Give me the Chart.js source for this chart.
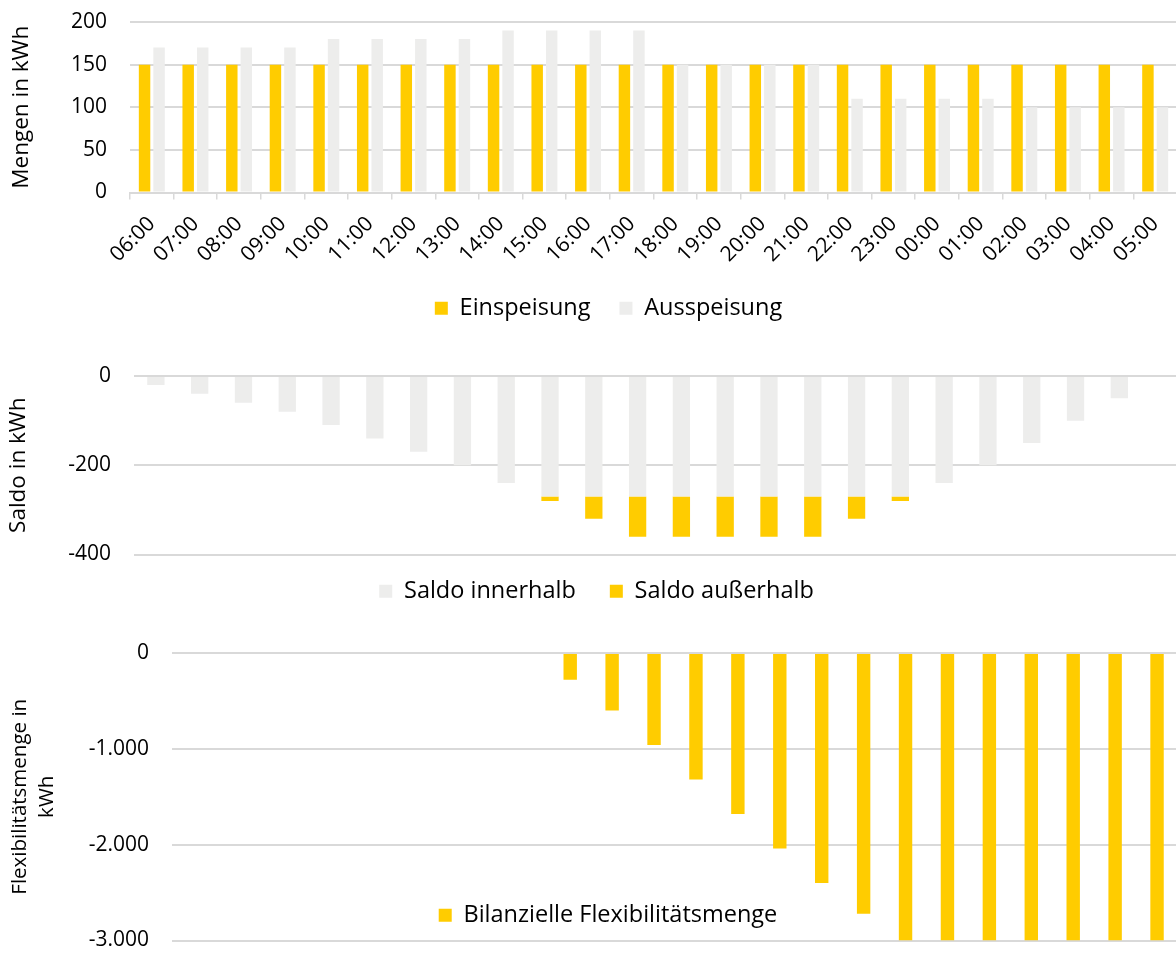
<!DOCTYPE html>
<html lang="de">
<head>
  <meta charset="UTF-8">
  <title>Einspeisung, Saldo und Flexibilitätsmenge</title>
  <script src="https://cdn.jsdelivr.net/npm/chart.js"></script>
  <style>
    html, body {
      margin: 0;
      padding: 0;
      background: #fff;
      width: 1176px;
      height: 953px;
      overflow: hidden;
    }
    .box { position: absolute; left: 0; }
    #box1 { top: 0;     width: 1185px; height: 335px; }
    #box2 { top: 340px; width: 1185px; height: 282px; }
    #box3 { top: 620px; width: 1178px; height: 364px; }
  </style>
</head>
<body>
  <div class="box" id="box1"><canvas id="mengenChart"></canvas></div>
  <div class="box" id="box2"><canvas id="saldoChart"></canvas></div>
  <div class="box" id="box3"><canvas id="flexChart"></canvas></div>

  <script>
    // data
    const hours = ['06:00', '07:00', '08:00', '09:00', '10:00', '11:00', '12:00', '13:00',
                   '14:00', '15:00', '16:00', '17:00', '18:00', '19:00', '20:00', '21:00',
                   '22:00', '23:00', '00:00', '01:00', '02:00', '03:00', '04:00', '05:00'];
    const einspeisung = [150, 150, 150, 150, 150, 150, 150, 150, 150, 150, 150, 150,
                         150, 150, 150, 150, 150, 150, 150, 150, 150, 150, 150, 150];
    const ausspeisung = [170, 170, 170, 170, 180, 180, 180, 180, 190, 190, 190, 190,
                         150, 150, 150, 150, 110, 110, 110, 110, 100, 100, 100, 100];
    const saldoInnerhalb = [-20, -40, -60, -80, -110, -140, -170, -200, -240, -270, -270, -270,
                            -270, -270, -270, -270, -270, -270, -240, -200, -150, -100, -50, 0];
    const saldoAusserhalb = [0, 0, 0, 0, 0, 0, 0, 0, 0, -10, -50, -90,
                             -90, -90, -90, -90, -50, -10, 0, 0, 0, 0, 0, 0];
    const flexMenge = [0, 0, 0, 0, 0, 0, 0, 0, 0, -280, -600, -960,
                       -1320, -1680, -2040, -2400, -2720, -3000, -3000, -3000, -3000, -3000, -3000, -3000];

    const YELLOW = '#FFCC00';
    const GREY = '#EDEDEC';
    const GRID = '#D9D9D9';

    Chart.defaults.font.family = '"Open Sans", "Noto Sans", sans-serif';
    Chart.defaults.color = '#000';
    Chart.defaults.animation = false;

    // moves the legend box by dx/dy after layout (Excel style legend placement)
    const legendShift = {
      id: 'legendShift',
      afterLayout(chart, args, opts) {
        const lg = chart.legend;
        if (!lg) return;
        lg.left += opts.dx || 0;
        lg.right += opts.dx || 0;
        lg.top += opts.dy || 0;
        lg.bottom += opts.dy || 0;
      }
    };

    const legendFont = { size: 23.5 };
    const tickFont = { size: 21 };
    const titleFont = { size: 22.5 };

    // y axes: gap between labels and plot made with an invisible tick,
    // ticks.padding would also push the chart area down
    const yGrid = { color: GRID, lineWidth: 2, drawTicks: true, tickLength: 23, tickColor: 'rgba(0,0,0,0)' };

    // 1) Einspeisung / Ausspeisung
    new Chart(document.getElementById('mengenChart'), {
      type: 'bar',
      data: {
        labels: hours,
        datasets: [
          { label: 'Einspeisung', data: einspeisung, backgroundColor: YELLOW },
          { label: 'Ausspeisung', data: ausspeisung, backgroundColor: GREY }
        ]
      },
      options: {
        responsive: true,
        maintainAspectRatio: false,
        layout: { padding: { top: 22, left: 0, right: 0, bottom: 0 } },
        datasets: { bar: { categoryPercentage: 0.665, barPercentage: 0.79, borderWidth: 0 } },
        plugins: {
          legend: {
            position: 'bottom',
            labels: { font: legendFont, boxWidth: 13, boxHeight: 13, padding: 29 }
          },
          tooltip: { enabled: false },
          legendShift: { dx: 16, dy: -5 }
        },
        scales: {
          x: {
            grid: { drawOnChartArea: false, tickLength: 7, color: GRID, lineWidth: 1.5 },
            border: { color: GRID, width: 2 },
            ticks: { minRotation: 45, maxRotation: 45, autoSkip: false, padding: 12, font: tickFont },
            afterFit: (scale) => { scale.height = 80; }
          },
          y: {
            min: 0,
            max: 200,
            ticks: { stepSize: 50, padding: 0, font: tickFont },
            grid: yGrid,
            border: { display: false },
            title: { display: true, text: 'Mengen in kWh', font: titleFont, padding: { top: 8 } },
            afterFit: (scale) => { scale.width = 130; }
          }
        }
      },
      plugins: [legendShift]
    });

    // 2) Saldo innerhalb / außerhalb (gestapelt)
    new Chart(document.getElementById('saldoChart'), {
      type: 'bar',
      data: {
        labels: hours,
        datasets: [
          { label: 'Saldo innerhalb', data: saldoInnerhalb, backgroundColor: GREY },
          { label: 'Saldo außerhalb', data: saldoAusserhalb, backgroundColor: YELLOW }
        ]
      },
      options: {
        responsive: true,
        maintainAspectRatio: false,
        layout: { padding: { top: 36, left: 0, right: 0, bottom: 0 } },
        datasets: { bar: { categoryPercentage: 0.5, barPercentage: 0.79, borderWidth: 0 } },
        plugins: {
          legend: {
            position: 'bottom',
            labels: { font: legendFont, boxWidth: 13, boxHeight: 13, padding: 34 }
          },
          tooltip: { enabled: false },
          legendShift: { dx: 4, dy: -9 }
        },
        scales: {
          x: { display: false, stacked: true },
          y: {
            stacked: true,
            min: -400,
            max: 0,
            ticks: { stepSize: 200, padding: 0, font: tickFont },
            grid: yGrid,
            border: { display: false },
            title: { display: true, text: 'Saldo in kWh', font: titleFont, padding: { top: 5 } },
            afterFit: (scale) => { scale.width = 134; }
          }
        }
      },
      plugins: [legendShift]
    });

    // 3) Bilanzielle Flexibilitätsmenge
    new Chart(document.getElementById('flexChart'), {
      type: 'bar',
      data: {
        labels: hours,
        datasets: [
          { label: 'Bilanzielle Flexibilitätsmenge', data: flexMenge, backgroundColor: YELLOW }
        ]
      },
      options: {
        responsive: true,
        maintainAspectRatio: false,
        locale: 'de-DE',
        layout: { padding: { top: 33, left: 0, right: 0, bottom: 0 } },
        datasets: { bar: { categoryPercentage: 0.4, barPercentage: 0.8, borderWidth: 0 } },
        plugins: {
          legend: {
            position: 'bottom',
            labels: { font: legendFont, boxWidth: 13, boxHeight: 13, padding: 10 }
          },
          tooltip: { enabled: false },
          legendShift: { dx: 19, dy: -47 }
        },
        scales: {
          x: { display: false },
          y: {
            min: -3000,
            max: 0,
            ticks: { stepSize: 1000, padding: 0, font: tickFont },
            grid: yGrid,
            border: { display: false },
            title: {
              display: true,
              text: ['Flexibilitätsmenge in', 'kWh'],
              font: { size: 20.5, lineHeight: 1.3 },
              padding: { top: 7 }
            },
            afterFit: (scale) => { scale.width = 172; }
          }
        }
      },
      plugins: [legendShift]
    });
  </script>
</body>
</html>
